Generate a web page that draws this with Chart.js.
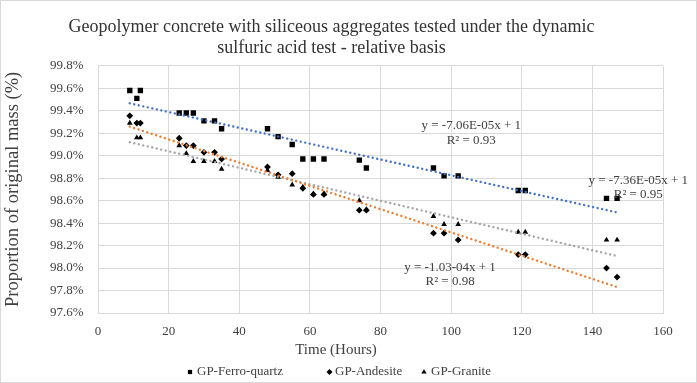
<!DOCTYPE html>
<html><head><meta charset="utf-8">
<script src="https://cdn.jsdelivr.net/npm/chart.js@4/dist/chart.umd.min.js"></script>
<style>html,body{margin:0;padding:0;background:#fff}canvas{display:block}</style>
</head><body>
<canvas id="c" width="697" height="383"></canvas>
<script>
// ---- data ----
const timeHours   = [9, 11, 12, 23, 25, 27, 30, 33, 35, 48, 51, 55, 58, 61, 64, 74, 76, 95, 98, 102, 119, 121, 144, 147];
const ferroQuartz = [99.58, 99.51, 99.58, 99.38, 99.38, 99.38, 99.31, 99.31, 99.24, 99.24, 99.17, 99.10, 98.97, 98.97, 98.97, 98.96, 98.89, 98.89, 98.82, 98.82, 98.69, 98.69, 98.62, 98.62];
const andesite    = [99.355, 99.29, 99.29, 99.155, 99.09, 99.09, 99.03, 99.03, 98.97, 98.90, 98.83, 98.84, 98.71, 98.655, 98.655, 98.515, 98.515, 98.31, 98.31, 98.25, 98.12, 98.12, 98.00, 97.92];
const granite     = [99.29, 99.16, 99.16, 99.09, 99.02, 98.95, 98.95, 98.95, 98.88, 98.87, 98.81, 98.74, 98.72, 98.66, 98.66, 98.60, 98.52, 98.46, 98.39, 98.39, 98.32, 98.32, 98.25, 98.25];

const trendTimes       = [9, 147];
const trendFerroQuartz = [99.466, 98.495];
const trendAndesite    = [99.259, 97.831];
const trendGranite     = [99.12, 98.107];

const seriesNames = ['GP-Ferro-quartz', 'GP-Andesite', 'GP-Granite'];
const equationTexts = [
  ['y = -7.06E-05x + 1', 'R\u00B2 = 0.93'],
  ['y = -7.36E-05x + 1', 'R\u00B2 = 0.95'],
  ['y = -1.03-04x + 1',  'R\u00B2 = 0.98']
];
const titleLines = ['Geopolymer concrete with siliceous aggregates tested under the dynamic', 'sulfuric acid test - relative basis'];
const xAxisTitle = 'Time (Hours)';
const yAxisTitle = 'Proportion of original mass (%)';

// ---- build ----
const pts = (xs, ys) => xs.map((x, i) => ({x: x, y: ys[i]}));
const FONT = '"Liberation Serif", "Times New Roman", serif';
const TXT = '#404040';
const styles = ['rect', 'rectRot', 'triangle'];
const radii = [3.8, 3.4, 3.3];

const markerSets = [ferroQuartz, andesite, granite].map((ys, i) => ({
  label: seriesNames[i],
  data: pts(timeHours, ys),
  showLine: false,
  pointStyle: styles[i],
  pointRadius: radii[i],
  pointHoverRadius: radii[i],
  pointBackgroundColor: '#000',
  pointBorderColor: '#000',
  pointBorderWidth: 0,
  order: 2
}));
const trendColors = ['#4472C4', '#ED7D31', '#A5A5A5'];
const trendSets = [trendFerroQuartz, trendAndesite, trendGranite].map((ys, i) => ({
  label: seriesNames[i] + ' trend',
  data: pts(trendTimes, ys),
  showLine: true,
  borderColor: trendColors[i],
  borderWidth: 2.4,
  borderDash: [0.01, 4.6],
  borderCapStyle: 'round',
  pointRadius: 0,
  pointHoverRadius: 0,
  fill: false,
  order: 1
}));

const extras = {
  id: 'extras',
  beforeDraw(chart) {
    const c = chart.ctx;
    c.save(); c.fillStyle = '#fff'; c.fillRect(0, 0, chart.width, chart.height); c.restore();
  },
  afterDraw(chart, args, opts) {
    const c = chart.ctx, xs = chart.scales.x, ys = chart.scales.y;
    c.save();
    c.fillStyle = TXT; c.textAlign = 'center'; c.textBaseline = 'middle';
    c.font = '13px ' + FONT;
    opts.equations.forEach((p, i) => {
      const px = xs.getPixelForValue(p.x), py = ys.getPixelForValue(p.y);
      equationTexts[i].forEach((t, j) => c.fillText(t, px, py + j * opts.lineGap));
    });
    c.font = '15px ' + FONT;
    c.fillText(xAxisTitle, opts.xTitle.x, opts.xTitle.y);
    // legend
    c.font = '13px ' + FONT; c.textAlign = 'left';
    opts.legend.forEach((L, i) => {
      c.fillStyle = '#000';
      Chart.helpers.drawPoint(c, {pointStyle: styles[i], radius: L.r, rotation: 0, borderWidth: 0}, L.mx, opts.legendY);
      c.fillStyle = TXT;
      c.fillText(seriesNames[i], L.tx, opts.legendY);
    });
    // chart-area border
    c.strokeStyle = '#d9d9d9'; c.lineWidth = 1;
    c.strokeRect(0.5, 0.5, chart.width - 1, chart.height - 1);
    c.restore();
  }
};

new Chart(document.getElementById('c'), {
  type: 'scatter',
  data: { datasets: trendSets.concat(markerSets) },
  plugins: [extras],
  options: {
    responsive: false,
    animation: false,
    events: [],
    layout: { padding: { left: 0, right: 34, top: 0, bottom: 0 } },
    plugins: {
      legend: { display: false },
      tooltip: { enabled: false },
      title: {
        display: true, text: titleLines, color: '#333',
        font: { family: FONT, size: 18, weight: 'normal', lineHeight: 1.2 },
        padding: { top: 16, bottom: 6.6 }
      },
      extras: {
        equations: [ {x: 105.7, y: 99.266}, {x: 153.0, y: 98.78}, {x: 99.7, y: 98.007} ],
        lineGap: 14.5,
        xTitle: { x: 336, y: 350 },
        legendY: 372,
        legend: [ {mx: 190, tx: 197, r: 3}, {mx: 329.5, tx: 335, r: 3}, {mx: 424, tx: 431, r: 3} ]
      }
    },
    scales: {
      x: {
        type: 'linear', min: 0, max: 160,
        ticks: { stepSize: 20, padding: 11, color: TXT, font: { family: FONT, size: 13 } },
        grid: { color: '#d9d9d9', drawTicks: false },
        border: { color: '#d9d9d9' },
        afterFit: s => { s.height = 70; }
      },
      y: {
        type: 'linear', min: 97.6, max: 99.8,
        ticks: { stepSize: 0.2, padding: 14.5, color: TXT, font: { family: FONT, size: 13 },
                 callback: v => Number(v).toFixed(1) + '%' },
        grid: { color: '#d9d9d9', drawTicks: false },
        border: { color: '#d9d9d9' },
        title: { display: true, text: yAxisTitle, color: TXT, font: { family: FONT, size: 18.5 }, padding: { top: 2, bottom: 0 } },
        afterFit: s => { s.width = 98; }
      }
    }
  }
});
</script>
</body></html>
